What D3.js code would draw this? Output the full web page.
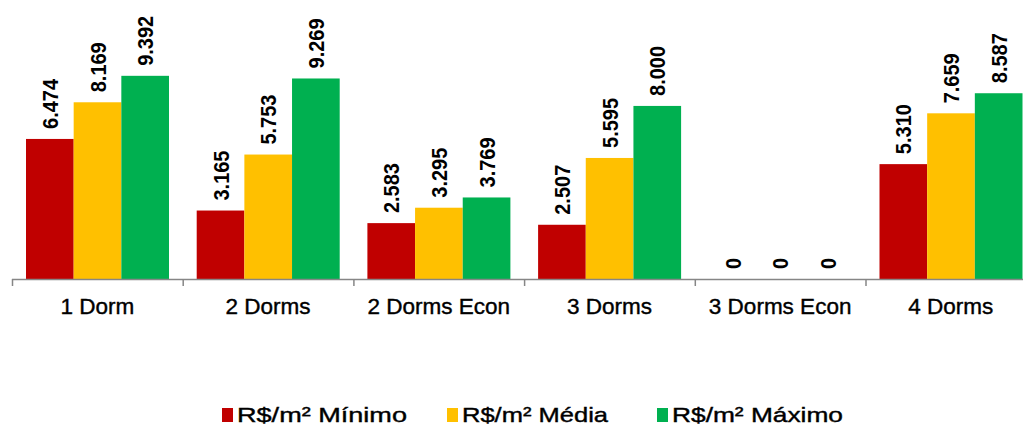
<!DOCTYPE html>
<meta charset="utf-8">
<script src="https://d3js.org/d3.v7.min.js"></script>
<style>
    body { margin: 0; background: #fff; }
    text { font-family: Arial, "Liberation Sans", sans-serif; }
</style>
<div id="chart"></div>
<script>
    // Data
    const categories = ["1 Dorm", "2 Dorms", "2 Dorms Econ", "3 Dorms", "3 Dorms Econ", "4 Dorms"];
    const seriesNames = ["R$/m² Mínimo", "R$/m² Média", "R$/m² Máximo"];
    const minimo = [6474, 3165, 2583, 2507, 0, 5310];
    const media  = [8169, 5753, 3295, 5595, 0, 7659];
    const maximo = [9392, 9269, 3769, 8000, 0, 8587];
    const seriesColors = ["#C00000", "#FFC000", "#00B050"];

    const width = 1023, height = 428;
    const baseY = 279;

    const svg = d3.select("#chart")
        .append("svg")
        .attr("width", width)
        .attr("height", height);

    // Brazilian number format (6.474)
    const br = d3.formatLocale({decimal: ",", thousands: ".", grouping: [3], currency: ["R$", ""]});
    const fmt = br.format(",d");

    // Scales
    const x0 = d3.scaleBand()
        .domain(categories)
        .range([12, 12 + 170.7 * categories.length]);

    const x1 = d3.scaleBand()
        .domain(seriesNames)
        .range([14, 157]);

    const y = d3.scaleLinear()
        .domain([0, 12000])
        .range([baseY, baseY - 259.6]);

    const color = d3.scaleOrdinal()
        .domain(seriesNames)
        .range(seriesColors);

    const data = categories.map((c, i) => ({
        cat: c,
        values: [minimo[i], media[i], maximo[i]].map((v, j) => ({series: seriesNames[j], value: v}))
    }));

    // Bars
    const groups = svg.append("g")
        .selectAll("g")
        .data(data)
        .join("g")
        .attr("transform", d => `translate(${x0(d.cat)},0)`);

    groups.selectAll("rect")
        .data(d => d.values)
        .join("rect")
        .attr("x", d => x1(d.series))
        .attr("y", d => y(d.value))
        .attr("width", x1.bandwidth())
        .attr("height", d => baseY - y(d.value))
        .attr("fill", d => color(d.series));

    // Value labels (rotated, a bit stretched like the original)
    groups.selectAll("text")
        .data(d => d.values)
        .join("text")
        .attr("transform", d => `translate(${x1(d.series) + x1.bandwidth() / 2},${y(d.value) - 10}) rotate(-90) scale(1,1.12)`)
        .attr("dy", "0.36em")
        .attr("font-size", 20)
        .attr("font-weight", "bold")
        .attr("fill", "#000")
        .text(d => fmt(d.value));

    // X axis
    const axis = svg.append("g");
    axis.append("line")
        .attr("x1", 12).attr("x2", width)
        .attr("y1", baseY + 0.5).attr("y2", baseY + 0.5)
        .attr("stroke", "#868686")
        .attr("stroke-width", 1.5);

    axis.selectAll(".tick")
        .data(categories)
        .join("line")
        .attr("class", "tick")
        .attr("x1", d => x0(d) + 0.5).attr("x2", d => x0(d) + 0.5)
        .attr("y1", baseY).attr("y2", baseY + 7)
        .attr("stroke", "#868686")
        .attr("stroke-width", 1.5);

    axis.selectAll(".cat")
        .data(categories)
        .join("text")
        .attr("class", "cat")
        .attr("x", d => x0(d) + x0.bandwidth() / 2)
        .attr("y", 314)
        .attr("text-anchor", "middle")
        .attr("font-size", 22.5)
        .attr("fill", "#000")
        .attr("stroke", "#000")
        .attr("stroke-width", 0.4)
        .text(d => d);

    // Legend
    const legendX = [222, 447, 657];
    const legendW = [170, 146, 171];
    const legend = svg.append("g")
        .selectAll("g")
        .data(seriesNames)
        .join("g")
        .attr("transform", (d, i) => `translate(${legendX[i]},0)`);

    legend.append("rect")
        .attr("x", 0).attr("y", 408)
        .attr("width", 11).attr("height", 14)
        .attr("fill", d => color(d));

    legend.append("text")
        .attr("x", 15)
        .attr("y", 422)
        .attr("font-size", 21)
        .attr("textLength", (d, i) => legendW[i])
        .attr("lengthAdjust", "spacingAndGlyphs")
        .attr("fill", "#000")
        .attr("stroke", "#000")
        .attr("stroke-width", 0.4)
        .text(d => d);
</script>
